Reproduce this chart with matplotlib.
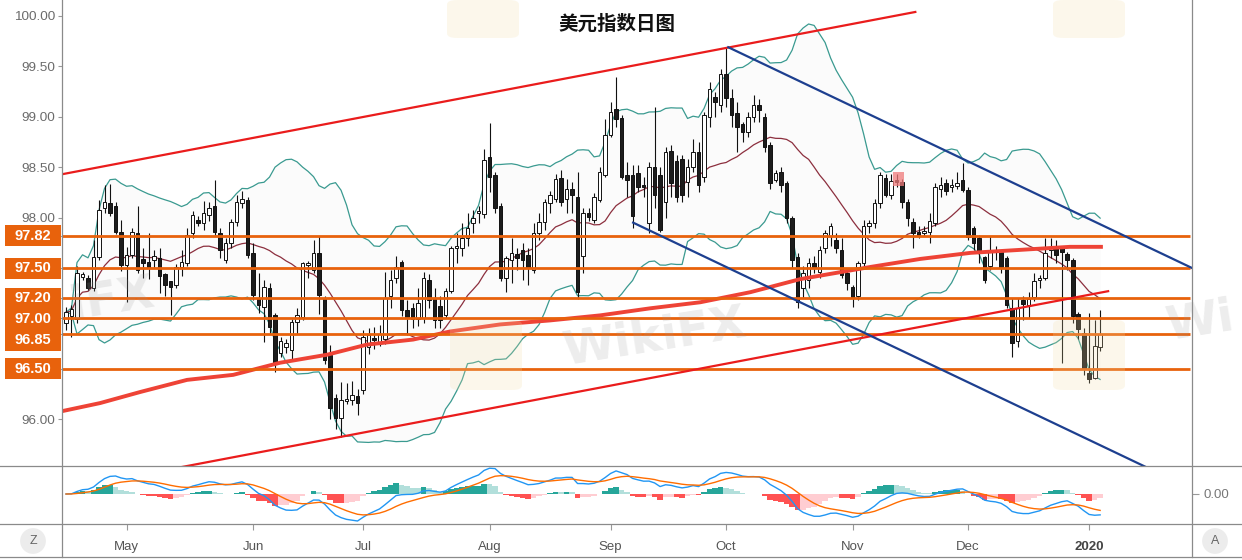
"""
美元指数日图 - DXY daily candles with Bollinger, MACD and drawn channels
"""
import numpy as np
import pandas as pd
import matplotlib
matplotlib.use('Agg')
import matplotlib.pyplot as plt
from matplotlib.patches import Rectangle, FancyBboxPatch
from matplotlib.lines import Line2D

plt.rcParams['font.family'] = ['Liberation Sans', 'DejaVu Sans']

W, H = 1242, 560

# ============================================================================
# DATA
# ============================================================================
dates = pd.bdate_range('2019-04-16', '2020-01-03')

opens = [
    96.95, 97.02, 96.99, 97.41, 97.40, 97.30, 97.61, 98.10, 98.14, 98.12,
    97.86, 97.53, 97.63, 97.85, 97.59, 97.56, 97.58, 97.60, 97.44, 97.37,
    97.33, 97.51, 97.55, 97.85, 97.98, 97.95, 98.03, 98.12, 97.85, 97.58,
    97.75, 97.96, 98.14, 98.17, 97.65, 97.20, 97.11, 97.30, 97.03, 96.66,
    96.72, 96.69, 96.96, 97.01, 97.53, 97.48, 97.65, 97.20, 96.64, 96.21,
    96.01, 96.18, 96.19, 96.23, 96.29, 96.72, 96.81, 96.77, 96.80, 97.22,
    97.40, 97.56, 97.08, 97.10, 96.99, 97.00, 97.38, 97.20, 97.12, 97.03,
    97.27, 97.70, 97.70, 97.80, 97.95, 98.05, 98.04, 98.60, 98.42, 98.12,
    97.40, 97.58, 97.64, 97.68, 97.63, 97.48, 97.85, 97.96, 98.14, 98.18,
    98.39, 98.18, 98.28, 98.20, 97.62, 98.05, 97.98, 98.17, 98.42, 98.82,
    99.08, 98.99, 98.42, 98.42, 98.44, 98.32, 97.95, 98.50, 98.42, 98.15,
    98.66, 98.56, 98.58, 98.35, 98.50, 98.65, 98.40, 99.00, 99.20, 99.12,
    99.42, 99.19, 99.04, 98.93, 98.85, 99.00, 99.12, 99.00, 98.72, 98.37,
    98.45, 98.34, 98.00, 97.61, 97.30, 97.38, 97.55, 97.46, 97.70, 97.82,
    97.78, 97.68, 97.45, 97.31, 97.22, 97.55, 97.92, 97.95, 98.14, 98.39,
    98.22, 98.37, 98.35, 98.15, 97.96, 97.86, 97.85, 97.86, 97.95, 98.28,
    98.34, 98.30, 98.31, 98.37, 98.27, 97.90, 97.80, 97.61, 97.52, 97.66,
    97.66, 97.60, 97.10, 96.78, 97.18, 97.13, 97.21, 97.38, 97.40, 97.68,
    97.70, 97.70, 97.64, 97.58, 97.04, 96.86, 96.46, 96.41, 96.72,
]
highs = [
    97.11, 97.13, 97.52, 97.46, 97.43, 97.78, 98.17, 98.32, 98.33, 98.15,
    97.98, 97.71, 97.90, 98.12, 97.70, 97.85, 97.68, 97.70, 97.45, 97.37,
    97.54, 97.68, 97.90, 98.07, 98.02, 98.16, 98.15, 98.37, 97.90, 97.80,
    97.99, 98.22, 98.26, 98.20, 97.75, 97.45, 97.38, 97.35, 97.05, 96.82,
    96.80, 96.99, 97.10, 97.56, 97.57, 97.78, 97.82, 97.22, 96.74, 96.25,
    96.37, 96.36, 96.38, 96.30, 96.88, 96.90, 96.91, 96.93, 97.46, 97.48,
    97.62, 97.58, 97.18, 97.15, 97.30, 97.46, 97.44, 97.30, 97.22, 97.30,
    97.72, 97.85, 97.95, 98.05, 98.08, 98.12, 98.68, 98.94, 98.45, 98.14,
    97.62, 97.80, 97.70, 97.75, 97.70, 97.95, 98.05, 98.18, 98.26, 98.43,
    98.47, 98.38, 98.35, 98.45, 98.10, 98.10, 98.24, 98.50, 98.98, 99.15,
    99.39, 99.02, 98.55, 98.52, 98.52, 98.40, 98.55, 99.10, 98.50, 98.70,
    98.72, 98.62, 98.62, 98.58, 98.78, 98.75, 99.05, 99.35, 99.25, 99.47,
    99.69, 99.28, 99.15, 98.95, 99.05, 99.22, 99.18, 99.04, 98.75, 98.47,
    98.50, 98.36, 98.02, 97.65, 97.52, 97.60, 97.62, 97.72, 97.88, 97.95,
    97.85, 97.80, 97.48, 97.33, 97.57, 97.98, 97.98, 98.18, 98.45, 98.43,
    98.43, 98.43, 98.38, 98.18, 98.00, 97.92, 97.92, 98.05, 98.34, 98.40,
    98.38, 98.38, 98.45, 98.54, 98.30, 97.92, 97.83, 97.62, 97.82, 97.72,
    97.68, 97.62, 97.20, 97.20, 97.22, 97.26, 97.45, 97.43, 97.80, 97.80,
    97.78, 97.72, 97.66, 97.60, 97.06, 96.90, 97.05, 96.98, 97.08,
]
lows = [
    96.88, 96.82, 96.95, 97.38, 97.28, 97.27, 97.58, 98.05, 98.02, 97.84,
    97.47, 97.16, 97.60, 97.45, 97.40, 97.39, 97.50, 97.25, 97.22, 97.03,
    97.30, 97.42, 97.52, 97.80, 97.92, 97.88, 97.97, 97.83, 97.60, 97.55,
    97.70, 97.92, 98.10, 97.60, 97.18, 97.05, 96.77, 96.85, 96.47, 96.62,
    96.66, 96.60, 96.85, 96.98, 97.40, 97.45, 97.04, 96.55, 96.00, 95.90,
    95.82, 96.15, 96.14, 96.04, 96.25, 96.65, 96.70, 96.73, 96.75, 97.10,
    97.35, 97.02, 96.84, 96.90, 96.92, 96.95, 97.10, 96.90, 96.90, 97.00,
    97.25, 97.55, 97.62, 97.72, 97.85, 97.95, 98.00, 98.25, 98.05, 97.37,
    97.26, 97.35, 97.48, 97.38, 97.33, 97.45, 97.78, 97.88, 98.05, 98.15,
    98.12, 98.05, 98.05, 97.19, 97.45, 97.97, 97.95, 98.15, 98.40, 98.80,
    98.90, 98.38, 98.20, 97.90, 98.25, 98.20, 97.85, 98.10, 97.86, 98.00,
    98.20, 98.15, 98.15, 98.20, 98.45, 98.25, 98.35, 98.90, 99.00, 99.05,
    99.10, 98.90, 98.65, 98.75, 98.80, 98.95, 98.95, 98.65, 98.28, 98.35,
    98.25, 97.95, 97.50, 97.10, 97.20, 97.30, 97.45, 97.40, 97.65, 97.72,
    97.65, 97.40, 97.28, 97.11, 97.18, 97.50, 97.85, 97.90, 98.10, 98.20,
    98.18, 98.30, 98.10, 97.92, 97.70, 97.80, 97.82, 97.75, 97.92, 98.20,
    98.22, 98.25, 98.28, 98.25, 97.78, 97.68, 97.55, 97.35, 97.48, 97.58,
    97.45, 97.10, 96.62, 96.72, 96.98, 97.00, 97.17, 97.30, 97.38, 97.60,
    97.55, 96.56, 97.48, 96.95, 96.80, 96.44, 96.36, 96.40, 96.68,
]
closes = [
    97.06, 97.09, 97.45, 97.44, 97.30, 97.61, 98.08, 98.15, 98.05, 97.86,
    97.53, 97.63, 97.86, 97.48, 97.55, 97.51, 97.62, 97.42, 97.33, 97.31,
    97.51, 97.56, 97.83, 98.03, 97.95, 98.05, 98.10, 97.86, 97.68, 97.75,
    97.96, 98.15, 98.18, 97.63, 97.23, 97.13, 97.31, 96.91, 96.56, 96.78,
    96.76, 96.96, 97.03, 97.55, 97.55, 97.65, 97.23, 96.59, 96.11, 96.01,
    96.19, 96.20, 96.24, 96.16, 96.82, 96.84, 96.79, 96.85, 97.20, 97.38,
    97.51, 97.08, 97.01, 96.99, 97.15, 97.40, 97.18, 96.98, 96.98, 97.27,
    97.70, 97.72, 97.80, 97.90, 98.00, 98.07, 98.57, 98.40, 98.10, 97.40,
    97.60, 97.65, 97.60, 97.58, 97.50, 97.85, 97.96, 98.15, 98.22, 98.38,
    98.15, 98.28, 98.22, 97.26, 98.05, 98.01, 98.20, 98.45, 98.82, 99.05,
    98.98, 98.40, 98.37, 98.02, 98.30, 98.30, 98.50, 98.22, 97.88, 98.65,
    98.34, 98.20, 98.22, 98.50, 98.65, 98.32, 99.02, 99.28, 99.15, 99.42,
    99.19, 99.02, 98.90, 98.85, 99.00, 99.12, 99.07, 98.70, 98.34, 98.44,
    98.32, 98.00, 97.58, 97.16, 97.45, 97.55, 97.50, 97.68, 97.85, 97.92,
    97.70, 97.43, 97.35, 97.21, 97.55, 97.92, 97.95, 98.14, 98.42, 98.22,
    98.36, 98.35, 98.15, 98.00, 97.85, 97.83, 97.87, 97.97, 98.30, 98.32,
    98.26, 98.32, 98.34, 98.27, 97.81, 97.75, 97.66, 97.38, 97.66, 97.68,
    97.51, 97.13, 96.76, 97.10, 97.14, 97.19, 97.37, 97.40, 97.65, 97.70,
    97.63, 97.66, 97.58, 97.02, 96.89, 96.50, 96.40, 96.73, 96.85,
]

# horizontal support / resistance levels
levels = [97.82, 97.50, 97.20, 97.00, 96.85, 96.50]

# long moving average (thick red), sampled (bar index, price)
ma_long_bar = [-0.7, 6.2, 13.5, 22.0, 30.4, 38.9, 47.5, 54.7, 63.1, 69.8, 78.9, 88.0,
               97.1, 106.2, 115.3, 124.4, 133.5, 146.2, 155.3, 164.4, 173.5, 182.5, 188.5]
ma_long_val = [96.08, 96.16, 96.27, 96.39, 96.44, 96.56, 96.64, 96.74, 96.79, 96.87, 96.94, 96.98,
               97.03, 97.10, 97.16, 97.26, 97.39, 97.51, 97.59, 97.65, 97.68, 97.71, 97.71]

# rising channel (red) and falling channel (blue): (bar, price) end points
chan_up_top_bar = [-0.73, 154.4]
chan_up_top_val = [98.43, 100.04]
chan_up_bot_bar = [-0.73, 189.45]
chan_up_bot_val = [95.30, 97.27]
chan_dn_top_bar = [120.4, 204.7]
chan_dn_top_val = [99.69, 97.50]
chan_dn_bot_bar = [103.1, 200.0]
chan_dn_bot_val = [97.95, 95.43]

# highlighted candle box
mark_bar = [150.3, 152.4]
mark_val = [98.31, 98.45]

# ============================================================================
# INDICATORS
# ============================================================================
o = np.array(opens); h = np.array(highs); l = np.array(lows); c = np.array(closes)
x = np.arange(len(c))
s = pd.Series(c)
bb_mid = s.rolling(20, min_periods=1).mean()
bb_sd = s.rolling(20, min_periods=1).std(ddof=0)
bb_up = bb_mid + 2 * bb_sd
bb_lo = bb_mid - 2 * bb_sd

ema12 = s.ewm(span=12, adjust=False).mean()
ema26 = s.ewm(span=26, adjust=False).mean()
macd = ema12 - ema26
signal = macd.ewm(span=9, adjust=False).mean()
hist = macd - signal
prev = hist.shift(1).fillna(0)
hist_colors = np.where(hist >= 0,
                       np.where(hist >= prev, '#26a69a', '#b2dfdb'),
                       np.where(hist < prev, '#ff5252', '#ffcdd2'))

# ============================================================================
# FIGURE
# ============================================================================
fig = plt.figure(figsize=(W / 100, H / 100), dpi=100)
fig.patch.set_facecolor('white')

ax = fig.add_axes([62 / W, 1 - 466 / H, (1192 - 62) / W, 466 / H])
axm = fig.add_axes([62 / W, 1 - 524 / H, (1192 - 62) / W, 58 / H])

x_lo, x_hi = -0.727, 204.7
ax.set_xlim(x_lo, x_hi)
ax.set_ylim(100 - 450 / 100.8, 100 + 16 / 100.8)
axm.set_xlim(x_lo, x_hi)

# Bollinger
ax.fill_between(x, bb_lo, bb_up, color='#9598a1', alpha=0.035, lw=0, zorder=1)
ax.plot(x, bb_up, color='#3a9a90', lw=0.9, zorder=2)
ax.plot(x, bb_lo, color='#3a9a90', lw=0.9, zorder=2)
ax.plot(x, bb_mid, color='#8c2f3e', lw=0.9, zorder=2)

# candles
up = c >= o
body_bot = np.minimum(o, c)
body_h = np.maximum(np.abs(c - o), 0.012)
ax.vlines(x, l, h, color='#111111', lw=0.8, zorder=3)
ax.bar(x[up], body_h[up], bottom=body_bot[up], width=0.68, color='white',
       edgecolor='#111111', linewidth=0.7, zorder=3.5)
ax.bar(x[~up], body_h[~up], bottom=body_bot[~up], width=0.68, color='#1c1c1c',
       edgecolor='#111111', linewidth=0.7, zorder=3.5)

ax.add_patch(Rectangle((mark_bar[0], mark_val[0]), mark_bar[1] - mark_bar[0],
                       mark_val[1] - mark_val[0], color='#f07a7a', alpha=0.75, lw=0, zorder=4))

# long MA
ax.plot(ma_long_bar, ma_long_val, color='#ee4336', lw=2.8, zorder=4, solid_capstyle='butt')

# levels
orange = '#e8620c'
for lv in levels:
    ax.plot([x_lo, 204.4], [lv, lv], color=orange, lw=2.0, zorder=5, solid_capstyle='butt')

# channels
ax.plot(chan_up_top_bar, chan_up_top_val, color='#ea1c1c', lw=1.6, zorder=6)
ax.plot(chan_up_bot_bar, chan_up_bot_val, color='#ea1c1c', lw=1.6, zorder=6)
ax.plot(chan_dn_top_bar, chan_dn_top_val, color='#1d3f8f', lw=1.6, zorder=6)
ax.plot(chan_dn_bot_bar, chan_dn_bot_val, color='#1d3f8f', lw=1.6, zorder=6)

# y axis
tick_vals = [96.0, 98.0, 98.5, 99.0, 99.5, 100.0]
ax.set_yticks(tick_vals + levels)
ax.set_yticklabels([f'{v:.2f}' for v in tick_vals] + [''] * len(levels))
ax.tick_params(axis='y', direction='out', length=3, width=0.8, colors='#999999',
               labelcolor='#6b6b6b', labelsize=9.7, pad=2)
ax.set_xticks([])
for sp in ax.spines.values():
    sp.set_visible(False)

# MACD panel
axm.bar(x, hist, width=1.0, color=hist_colors, lw=0, zorder=1)
axm.plot(x, macd, color='#2196f3', lw=1.0, zorder=2)
axm.plot(x, signal, color='#ff6d00', lw=1.0, zorder=2)
mn = min(macd.min(), signal.min())
rng = -mn * 58 / 27
ymin = -30 / 58 * rng
axm.set_ylim(ymin, ymin + rng)
axm.yaxis.tick_right()
axm.set_yticks([0])
axm.set_yticklabels(['0.00'])
axm.tick_params(axis='y', direction='out', length=5, width=0.8, colors='#999999',
                labelcolor='#777777', labelsize=9.5, pad=3)

month_idx = [i for i in range(1, len(dates)) if dates[i].month != dates[i - 1].month]
month_lab = [str(dates[i].year) if dates[i].month == 1 else dates[i].strftime('%b') for i in month_idx]
axm.set_xticks(month_idx)
axm.set_xticklabels(month_lab)
axm.tick_params(axis='x', direction='out', length=4, width=0.8, colors='#999999',
                labelcolor='#555555', labelsize=9.5, pad=8)
for t in axm.get_xticklabels():
    if t.get_text().isdigit():
        t.set_fontweight('bold')
        t.set_color('#444444')
for sp in axm.spines.values():
    sp.set_visible(False)

# frame lines
def fig_line(xs, ys, **kw):
    fig.add_artist(Line2D([v / W for v in xs], [1 - v / H for v in ys],
                          transform=fig.transFigure, **kw))

for yy in (466, 524, 557):
    fig_line([0, W], [yy, yy], color='#8a8a8a', lw=0.9)
for xx in (62, 1192):
    fig_line([xx, xx], [0, 557], color='#8a8a8a', lw=0.9)

# orange level tags on the price scale (pushed apart when they collide)
fig.canvas.draw()
tag_h = 21
last = -100
for lv in levels:
    ypx = H - ax.transData.transform((0, lv))[1]
    ypx = max(ypx, last + tag_h)
    last = ypx
    fig.add_artist(Rectangle((5 / W, 1 - (ypx + tag_h / 2) / H), 56 / W, tag_h / H,
                             transform=fig.transFigure, color=orange, lw=0, zorder=5))
    fig.text(33 / W, 1 - ypx / H, f'{lv:.2f}', color='white', fontsize=10.5,
             fontweight='bold', ha='center', va='center', zorder=6)

# title
fig.text(617 / W, 1 - 24 / H, '美元指数日图', fontsize=14, fontweight='bold',
         family=['Noto Sans CJK SC', 'DejaVu Sans'], ha='center', va='center', color='#111111')

# corner buttons
for lbl, xx in (('Z', 33), ('A', 1215)):
    fig.text(xx / W, 1 - 541 / H, lbl, fontsize=9, color='#666666', ha='center', va='center',
             bbox=dict(boxstyle='circle,pad=0.55', fc='#ececec', ec='none'))

# watermarks (faint)
for (lx, ly, hh) in ((450, 320, 70), (1053, 320, 70), (447, 0, 38), (1053, 0, 38)):
    fig.add_artist(FancyBboxPatch((lx / W, 1 - (ly + hh) / H), 72 / W, hh / H,
                                  boxstyle='round,pad=0,rounding_size=0.008',
                                  transform=fig.transFigure, fc='#f3dfa8', ec='none',
                                  alpha=0.22, zorder=7))
for (tx, ty, txt) in ((655, 338, 'WikiFX'), (112, 300, 'iFX'), (1200, 322, 'Wi')):
    fig.text(tx / W, 1 - ty / H, txt, fontsize=34, fontweight='bold', color='#9a9a9a',
             alpha=0.18, rotation=9, ha='center', va='center', family='DejaVu Sans', zorder=7)

plt.savefig('out.png', dpi=100, facecolor='white')
plt.close()
